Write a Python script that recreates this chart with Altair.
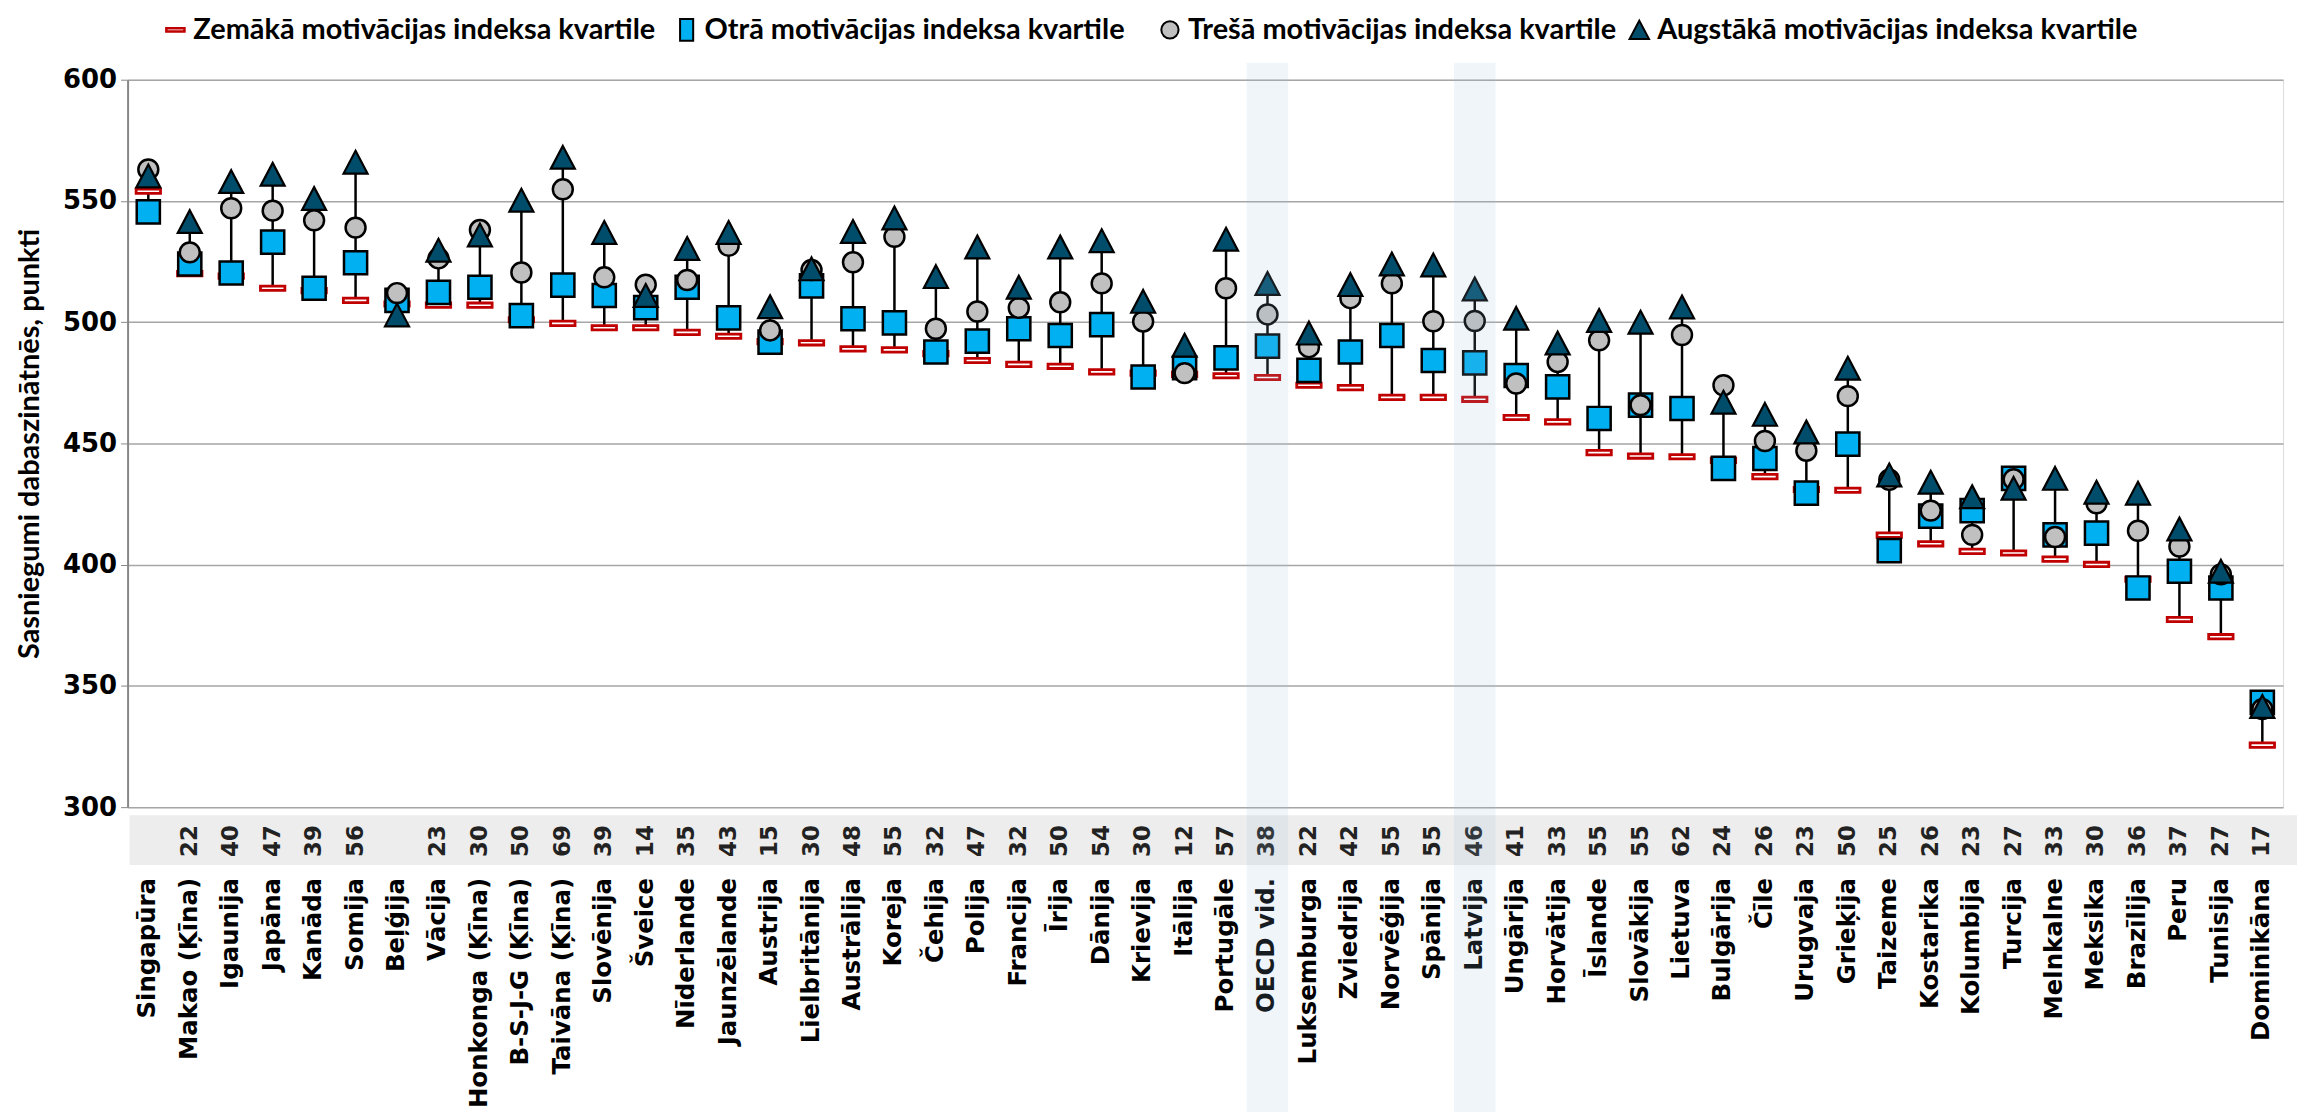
import altair as alt
import pandas as pd

countries = ["Singapūra", "Makao (Ķīna)", "Igaunija", "Japāna", "Kanāda", "Somija", "Beļģija", "Vācija",
             "Honkonga (Ķīna)", "B-S-J-G (Ķīna)", "Taivāna (Ķīna)", "Slovēnija", "Šveice", "Nīderlande",
             "Jaunzēlande", "Austrija", "Lielbritānija", "Austrālija", "Koreja", "Čehija", "Polija",
             "Francija", "Īrija", "Dānija", "Krievija", "Itālija", "Portugāle", "OECD vid.", "Luksemburga",
             "Zviedrija", "Norvēģija", "Spānija", "Latvija", "Ungārija", "Horvātija", "Īslande", "Slovākija",
             "Lietuva", "Bulgārija", "Čīle", "Urugvaja", "Grieķija", "Taizeme", "Kostarika", "Kolumbija",
             "Turcija", "Melnkalne", "Meksika", "Brazīlija", "Peru", "Tunisija", "Dominikāna"]

diff_labels = ["", "22", "40", "47", "39", "56", "", "23", "30", "50", "69", "39", "14", "35", "43", "15",
               "30", "48", "55", "32", "47", "32", "50", "54", "30", "12", "57", "38", "22", "42", "55", "55",
               "46", "41", "33", "55", "55", "62", "24", "26", "23", "50", "25", "26", "23", "27", "33", "30",
               "36", "37", "27", "17"]

q_low = [554, 520, 519, 514, 513, 509, 507.5, 507, 507, 501, 499.5, 497.7, 497.7, 495.8, 494.2, 492, 491.5,
         489, 488.6, 487, 484.2, 482.6, 481.8, 479.5, 479, 478.5, 477.9, 477.2, 474, 473, 469, 469, 468.2,
         460.7, 458.9, 446.2, 444.8, 444.5, 443, 436.3, 431, 430.7, 412.2, 408.6, 405.5, 404.8, 402.3, 400.1,
         394, 377.4, 370.3, 325.6]
q_second = [545.5, 524, 520.3, 533, 514, 524.5, 509, 512.3, 514.4, 502.7, 515.3, 511, 506, 514.4, 501.8,
            491.8, 515, 501.4, 499.7, 487.7, 492.2, 497.3, 494.5, 499, 477.4, 481.2, 485.3, 490.1, 480.1,
            487.7, 494.5, 484.2, 483.2, 478, 473.3, 460.3, 465.8, 464.4, 439.7, 443.8, 429.5, 449.7, 405.8,
            420, 422.3, 435.6, 412.3, 413, 390.4, 397.3, 390.4, 343.2]
q_third = [563, 528.8, 547, 546, 542, 539, 512, 526.3, 538, 520.5, 554.8, 518.5, 515.5, 517.4, 531.5, 496.6,
           521.5, 524.7, 535.2, 497.3, 504.4, 505.9, 508.2, 516, 500.3, 479, 514, 503.2, 489.7, 509.9, 516,
           500.4, 500.5, 474.7, 483.6, 492.5, 465.8, 494.7, 474, 451, 447, 469.5, 435, 422.3, 412.3, 435.2,
           411.4, 425.3, 414, 407.5, 396, 340.4]
q_top = [560.3, 541.5, 558, 561, 551, 566, 503, 529.7, 536, 550.3, 568, 537, 511, 530.4, 537, 506.4, 522,
         537.4, 543, 518.8, 531, 514.4, 531, 533.6, 508.6, 490.5, 534.2, 516, 495.5, 515.5, 524, 523.6, 513.7,
         501.6, 491.4, 500.7, 500, 506.3, 467, 462, 454.7, 481, 437, 434, 428, 431.5, 435.6, 429.9, 429.5,
         414.7, 397.3, 341.5]

series_names = ["Zemākā motivācijas indeksa kvartile", "Otrā motivācijas indeksa  kvartile",
                "Trešā motivācijas indeksa  kvartile", "Augstākā motivācijas indeksa  kvartile"]
highlighted = ["OECD vid.", "Latvija"]

df = pd.DataFrame({"country": countries, "n": diff_labels, "low": q_low, "q2": q_second,
                   "q3": q_third, "top": q_top})
df["lo"] = df[["low", "q2", "q3", "top"]].min(axis=1)
df["hi"] = df[["low", "q2", "q3", "top"]].max(axis=1)

W, H = 2163, 730
NARROW = "Lato, sans-serif"
WIDE = "DejaVu Sans, Verdana, sans-serif"

RED, BLUE, GRAY, DARK = "#C00000", "#00B0F0", "#C0C0C0", "#004D6B"
DASH = "M-1,-0.18L1,-0.18L1,0.18L-1,0.18Z"
TRI = "M0,-0.95L1,0.95L-1,0.95Z"
TALL = "M-0.6,-1L0.6,-1L0.6,1L-0.6,1Z"

xenc = alt.X("country:N", sort=countries, scale=alt.Scale(paddingInner=0, paddingOuter=0), axis=None)
yaxis = alt.Axis(title="Sasniegumi dabaszinātnēs, punkti", values=[300, 350, 400, 450, 500, 550, 600],
                 titleX=-98, titleY=H / 2, titleAngle=270, titleAlign="center", titleBaseline="middle",
                 titleFont=NARROW, titleFontSize=29, titleFontWeight="bold", titleColor="black",
                 labelFont=WIDE, labelFontSize=26, labelFontWeight="bold", labelColor="black",
                 labelPadding=4, tickSize=7, tickColor="#888888", domainColor="#888888", domainWidth=2,
                 gridColor="#A6A6A6", gridWidth=1.5)
yscale = alt.Scale(domain=[300, 600], nice=False, zero=False)

base = alt.Chart(df)

numband = alt.Chart(pd.DataFrame({"k": [0]})).mark_rect(color="#EDEDED").encode(
    x=alt.value(2), x2=alt.value(W + 14), y=alt.value(738), y2=alt.value(788))

rules = base.mark_rule(color="black", strokeWidth=2.5).encode(
    x=xenc, y=alt.Y("lo:Q", scale=yscale, axis=yaxis), y2="hi:Q")

pt_low = base.mark_point(shape=DASH, size=600, filled=True, fill="white", stroke=RED, strokeWidth=2.8,
                         opacity=1).encode(x=xenc, y=alt.Y("low:Q", scale=yscale, axis=yaxis))
pt_q2 = base.mark_point(shape="square", size=540, filled=True, fill=BLUE, stroke="black", strokeWidth=2.5,
                        opacity=1).encode(x=xenc, y=alt.Y("q2:Q", scale=yscale, axis=yaxis))
pt_q3 = base.mark_point(shape="circle", size=400, filled=True, fill=GRAY, stroke="black", strokeWidth=2.5,
                        opacity=1).encode(x=xenc, y=alt.Y("q3:Q", scale=yscale, axis=yaxis))
pt_top = base.mark_point(shape=TRI, size=580, filled=True, fill=DARK, stroke="black", strokeWidth=2.2,
                         opacity=1).encode(x=xenc, y=alt.Y("top:Q", scale=yscale, axis=yaxis))

nums = base.mark_text(angle=270, align="center", baseline="middle", font=WIDE, fontWeight="bold",
                      fontSize=23, color="#222222").encode(x=xenc, y=alt.value(764), text="n:N")
names = base.mark_text(angle=270, align="right", baseline="middle", font=WIDE, fontWeight="bold",
                       fontSize=24.5, color="black").encode(x=xenc, y=alt.value(801), text="country:N")

hl = alt.Chart(df[df["country"].isin(highlighted)]).mark_rect(color="#9BBCDE", opacity=0.15).encode(
    x=xenc, y=alt.value(-17), y2=alt.value(1050))

# manual legend
leg_y = -50
sym_x = [48, 561, 1046, 1517]
legend_layers = []
one = pd.DataFrame({"k": [0]})
legend_layers.append(alt.Chart(one).mark_point(shape=DASH, size=330, filled=True, fill="white", stroke=RED,
                                               strokeWidth=2.5, opacity=1).encode(
    x=alt.value(sym_x[0]), y=alt.value(leg_y)))
legend_layers.append(alt.Chart(one).mark_point(shape=TALL, size=480, filled=True, fill=BLUE, stroke="black",
                                               strokeWidth=2, opacity=1).encode(
    x=alt.value(sym_x[1]), y=alt.value(leg_y)))
legend_layers.append(alt.Chart(one).mark_point(shape="circle", size=300, filled=True, fill=GRAY,
                                               stroke="black", strokeWidth=2, opacity=1).encode(
    x=alt.value(sym_x[2]), y=alt.value(leg_y)))
legend_layers.append(alt.Chart(one).mark_point(shape=TRI, size=380, filled=True, fill=DARK, stroke="black",
                                               strokeWidth=2, opacity=1).encode(
    x=alt.value(sym_x[3]), y=alt.value(leg_y)))
for i, name in enumerate(series_names):
    legend_layers.append(alt.Chart(pd.DataFrame({"t": [name]})).mark_text(
        align="left", baseline="middle", font=NARROW, fontWeight="bold", fontSize=29, color="black").encode(
        x=alt.value(sym_x[i] + 18), y=alt.value(leg_y), text="t:N"))

chart = alt.layer(numband, rules, pt_low, pt_q2, pt_q3, pt_top, nums, names, hl, *legend_layers).properties(
    width=W, height=H,
    autosize=alt.AutoSizeParams(type="none"),
    padding={"left": 120, "top": 70, "right": 14, "bottom": 316},
).configure_view(stroke="#888888", strokeWidth=2).configure(background="white")

chart.save("out.html", embed_options={"renderer": "svg", "actions": False})
